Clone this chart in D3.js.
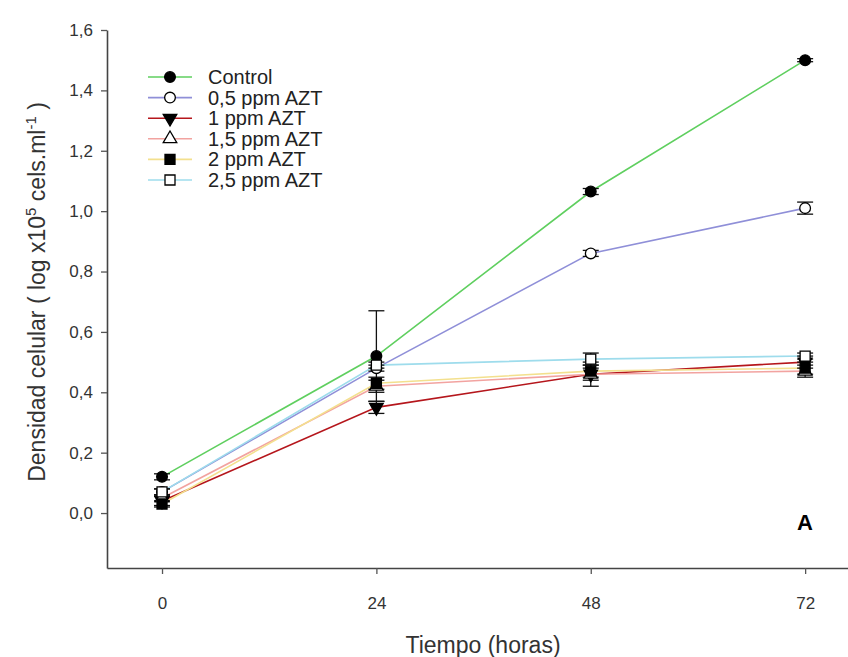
<!DOCTYPE html>
<meta charset="utf-8">
<script src="https://cdn.jsdelivr.net/npm/d3@7"></script>
<style>
  body { margin: 0; background: #fff; }
  text { font-family: Arial, "Liberation Sans", sans-serif; }
</style>
<div id="chart"></div>
<script>
// datos
const horas = [0, 24, 48, 72];
const xTicks = [0, 24, 48, 72];
const yTicks = [0, 0.2, 0.4, 0.6, 0.8, 1.0, 1.2, 1.4, 1.6];

const series = ["Control", "0,5 ppm AZT", "1 ppm AZT", "1,5 ppm AZT", "2 ppm AZT", "2,5 ppm AZT"];
const control  = [0.12, 0.52, 1.065, 1.50];
const azt05    = [0.07, 0.48, 0.86, 1.01];
const azt1     = [0.04, 0.35, 0.46, 0.50];
const azt15    = [0.05, 0.42, 0.46, 0.47];
const azt2     = [0.03, 0.43, 0.47, 0.48];
const azt25    = [0.07, 0.49, 0.51, 0.52];

const errControl = [0.01, 0.15, 0.01, 0.005];
const err05      = [0.01, 0.01, 0.01, 0.02];
const err1       = [0.015, 0.02, 0.04, 0.02];
const err15      = [0.01, 0.02, 0.02, 0.02];
const err2       = [0.01, 0.02, 0.02, 0.02];
const err25      = [0.01, 0.01, 0.02, 0.01];

const valores = [control, azt05, azt1, azt15, azt2, azt25];
const errores = [errControl, err05, err1, err15, err2, err25];
const colores = ["#5fcf5f", "#8f8fd8", "#b5161c", "#f2a3a0", "#f3e08e", "#9edcec"];
const simbolos = [
  {type: d3.symbolCircle, fill: "#000"},
  {type: d3.symbolCircle, fill: "#fff"},
  {type: d3.symbolTriangle, fill: "#000", flip: true},
  {type: d3.symbolTriangle, fill: "#fff"},
  {type: d3.symbolSquare, fill: "#000"},
  {type: d3.symbolSquare, fill: "#fff"}
];

const W = 848, H = 657;
const svg = d3.select("#chart").append("svg")
  .attr("width", W).attr("height", H);

const x = d3.scaleLinear().domain([-6.16, 76.8]).range([107, 848]);
const y = d3.scaleLinear().domain([-0.182, 1.6]).range([568, 30]);

const fmt = d => d3.format(".1f")(d).replace(".", ",");

// ejes
const gx = svg.append("g")
  .attr("transform", `translate(0,${y(-0.182)})`)
  .call(d3.axisBottom(x).tickValues(xTicks).tickSize(6).tickPadding(23).tickSizeOuter(0));
const gy = svg.append("g")
  .attr("transform", `translate(${x(-6.16)},0)`)
  .call(d3.axisLeft(y).tickValues(yTicks).tickFormat(fmt).tickSize(6).tickPadding(8).tickSizeOuter(0));
[gx, gy].forEach(g => {
  g.attr("font-size", null).attr("font-family", null);
  g.select(".domain").attr("stroke", "#444").attr("stroke-width", 1.6);
  g.selectAll(".tick line").attr("stroke", "#555").attr("stroke-width", 1.3);
  g.selectAll(".tick text").attr("fill", "#333").style("font-size", "17px");
});

// lineas
const line = d3.line().x((d, i) => x(horas[i])).y(d => y(d));
valores.forEach((v, k) => {
  svg.append("path")
    .datum(v)
    .attr("d", line)
    .attr("fill", "none")
    .attr("stroke", colores[k])
    .attr("stroke-width", 1.6);
});

// barras de error
valores.forEach((v, k) => {
  const g = svg.append("g").attr("stroke", "#111").attr("stroke-width", 1.3);
  v.forEach((d, i) => {
    const e = errores[k][i];
    const cx = x(horas[i]);
    g.append("line").attr("x1", cx).attr("x2", cx).attr("y1", y(d - e)).attr("y2", y(d + e));
    [d - e, d + e].forEach(t => {
      g.append("line").attr("x1", cx - 8).attr("x2", cx + 8).attr("y1", y(t)).attr("y2", y(t));
    });
  });
});

// simbolos
function drawSymbol(g, s, cx, cy) {
  const size = s.type === d3.symbolTriangle ? 80 : (s.type === d3.symbolSquare ? 100 : 90);
  g.append("path")
    .attr("d", d3.symbol().type(s.type).size(size)())
    .attr("transform", `translate(${cx},${cy})` + (s.flip ? " rotate(180)" : ""))
    .attr("fill", s.fill)
    .attr("stroke", "#000")
    .attr("stroke-width", 1.3);
}
valores.forEach((v, k) => {
  const g = svg.append("g");
  v.forEach((d, i) => drawSymbol(g, simbolos[k], x(horas[i]), y(d)));
});

// leyenda
const leg = svg.append("g");
series.forEach((s, k) => {
  const ly = 77 + k * 20.6;
  leg.append("line").attr("x1", 148).attr("x2", 192).attr("y1", ly).attr("y2", ly)
    .attr("stroke", colores[k]).attr("stroke-width", 1.6);
  drawSymbol(leg, simbolos[k], 170, ly);
  leg.append("text")
    .attr("x", 208).attr("y", ly + 7)
    .attr("fill", "#222").style("font-size", "20px").text(s);
});

// titulos
svg.append("text")
  .attr("x", 483).attr("y", 653)
  .attr("text-anchor", "middle")
  .attr("fill", "#333").style("font-size", "23px")
  .text("Tiempo (horas)");

const yt = svg.append("text")
  .attr("transform", "translate(45,292) rotate(-90)")
  .attr("text-anchor", "middle")
  .attr("fill", "#333").style("font-size", "23px");
yt.append("tspan").text("Densidad celular ( log x10");
yt.append("tspan").attr("dy", -9).style("font-size", "15px").text("5");
yt.append("tspan").attr("dy", 9).text(" cels.ml");
yt.append("tspan").attr("dy", -9).style("font-size", "15px").text("-1");
yt.append("tspan").attr("dy", 9).text(" )");

svg.append("text")
  .attr("x", 805).attr("y", 530)
  .attr("text-anchor", "middle")
  .attr("fill", "#000").style("font-size", "22px").style("font-weight", "bold")
  .text("A");
</script>
